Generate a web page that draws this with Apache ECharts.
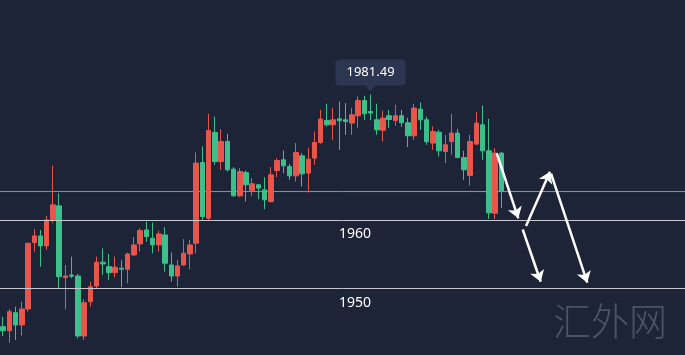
<!DOCTYPE html>
<html>
<head>
<meta charset="utf-8">
<script src="https://cdn.jsdelivr.net/npm/echarts@6/dist/echarts.min.js"></script>
<style>
html,body{margin:0;padding:0;background:#1d2438;}
#chart{width:685px;height:355px;}
</style>
</head>
<body>
<div id="chart"></div>
<script>
// ---- data ----
const opens = [1944.43,1943.84,1946.47,1944.68,1947.01,1956.70,1957.68,1956.22,1960.01,1962.06,
1951.59,1951.98,1951.83,1943.07,1948.08,1950.37,1953.84,1953.19,1952.32,1952.96,
1952.81,1954.90,1956.51,1958.55,1957.34,1956.36,1957.82,1953.44,1951.83,1953.44,
1955.05,1956.61,1968.38,1960.26,1972.77,1968.53,1971.45,1967.42,1963.52,1966.92,
1964.29,1965.13,1964.40,1962.69,1967.22,1968.78,1967.80,1966.44,1969.36,1966.84,
1969.03,1971.31,1974.52,1973.89,1974.77,1974.62,1974.14,1975.21,1977.44,1975.83,
1974.62,1973.09,1975.21,1974.52,1975.21,1974.18,1972.28,1976.18,1974.62,1971.22,
1972.80,1969.99,1971.45,1972.68,1969.11,1966.49,1971.07,1973.89,1970.09,1960.99,
1969.76];
const closes = [1943.84,1946.62,1944.68,1947.01,1956.61,1957.68,1956.22,1960.01,1962.21,1951.73,
1951.83,1951.80,1943.07,1947.93,1950.27,1953.84,1953.59,1952.32,1953.11,1952.81,
1955.05,1956.36,1958.45,1957.58,1956.36,1957.97,1953.69,1951.83,1953.30,1955.15,
1956.36,1968.30,1960.50,1973.06,1968.53,1971.45,1967.32,1963.52,1967.07,1965.13,
1965.27,1964.65,1962.94,1966.59,1968.68,1967.90,1966.44,1969.85,1966.73,1968.88,
1971.31,1974.72,1973.89,1974.62,1974.48,1974.37,1975.35,1977.44,1975.50,1975.60,
1973.16,1974.87,1974.67,1975.21,1974.18,1972.28,1976.33,1974.62,1971.41,1972.91,
1970.09,1970.97,1972.68,1969.11,1967.32,1971.45,1974.14,1970.09,1961.04,1969.76,
1964.15];
const highs = [1945.89,1947.01,1947.35,1948.08,1956.65,1958.66,1958.55,1960.60,1967.90,1963.91,
1953.44,1954.65,1952.13,1948.43,1951.00,1954.65,1955.88,1955.05,1954.65,1954.17,
1955.24,1957.49,1958.80,1959.77,1959.62,1958.45,1958.95,1955.24,1954.17,1957.20,
1957.09,1969.85,1970.72,1975.50,1975.10,1973.26,1972.58,1967.71,1967.57,1967.22,
1966.11,1965.27,1966.25,1967.71,1969.03,1970.14,1968.19,1971.22,1969.76,1970.49,
1972.91,1976.08,1976.96,1976.33,1977.29,1977.06,1976.37,1978.02,1978.13,1978.30,
1976.96,1975.94,1976.08,1976.81,1976.08,1974.91,1976.96,1977.15,1975.06,1973.64,
1973.16,1972.43,1975.50,1973.31,1970.09,1972.43,1975.75,1976.71,1974.77,1970.49,
1969.90];
const lows = [1943.07,1942.09,1942.49,1943.11,1946.62,1955.38,1953.19,1955.63,1959.53,1950.04,
1946.97,1951.50,1942.73,1942.49,1947.35,1950.04,1951.98,1951.25,1951.64,1950.18,
1950.77,1954.76,1955.38,1956.84,1955.15,1955.38,1952.46,1951.00,1950.27,1953.30,
1952.81,1955.15,1960.01,1960.01,1968.05,1967.32,1967.07,1963.42,1963.33,1962.69,
1963.52,1963.04,1961.58,1962.54,1966.25,1966.84,1965.86,1965.61,1964.88,1964.00,
1968.05,1971.12,1973.64,1971.70,1970.24,1972.43,1972.43,1973.45,1974.62,1974.55,
1972.43,1971.45,1973.45,1973.75,1973.60,1970.63,1971.70,1973.16,1970.97,1970.24,
1969.26,1968.30,1969.51,1969.03,1965.86,1965.02,1970.97,1968.78,1960.16,1960.12,
1961.77];
const slotCount = 110; // category slots (chart leaves empty room on the right)
const categories = Array.from({length: slotCount}, (_, i) => String(i));
const levelLines = [1960, 1950];
const levelLabels = ['1960', '1950'];
const peakIndex = 59;
const peakLabel = '1981.49';
// arrows: [fromIndex, fromPrice, toIndex, toPrice]
const arrows = [
  [79.27, 1969.73, 82.73, 1960.25],
  [83.97, 1959.12, 87.82, 1967.05],
  [87.99, 1966.78, 93.81, 1950.85],
  [83.44, 1958.61, 86.33, 1950.99]
];
const watermark = '汇外网';

// ---- build ----
const candleData = opens.map((o, i) => [o, closes[i], lows[i], highs[i]]);
const lastClose = closes[closes.length - 1];
const UP = '#e8554b', DOWN = '#3cbf8b';

const chart = echarts.init(document.getElementById('chart'), null, {renderer: 'canvas'});
chart.setOption({
  animation: false,
  backgroundColor: '#1d2438',
  grid: {left: 0, right: 0, top: 0, bottom: 0},
  xAxis: [
    {type: 'category', data: categories, show: false, boundaryGap: true},
    {type: 'value', min: -0.5, max: slotCount - 0.5, show: false}
  ],
  yAxis: {type: 'value', min: 1940.3, max: 1992.1, show: false, scale: true},
  graphic: [{
    type: 'text', left: 553, top: 302, silent: true,
    style: {text: watermark, fill: '#4c5464', font: '300 38px "Noto Sans CJK SC", sans-serif'}
  }],
  series: [
    {
      // last-price line
      type: 'line', xAxisIndex: 1, silent: true, z: 1,
      data: [[-0.5, lastClose], [slotCount - 0.5, lastClose]],
      symbol: 'none',
      lineStyle: {color: '#3dbb9f', width: 1},
      itemStyle: {color: '#3dbb9f'}
    },
    {
      // level lines
      type: 'line', xAxisIndex: 1, data: [], silent: true, z: 1,
      markLine: {
        silent: true, symbol: ['none', 'none'],
        lineStyle: {color: '#c6c9d1', width: 1, type: 'solid'},
        label: {
          show: true, position: 'insideMiddleBottom',
          formatter: p => levelLabels[levelLines.indexOf(p.value)],
          color: '#ffffff', fontSize: 14, distance: 7,
          fontFamily: '"Noto Sans", sans-serif', padding: [0, 0, 0, 25]
        },
        data: levelLines.map(v => ({yAxis: v}))
      }
    },
    {
      type: 'candlestick',
      data: candleData,
      barWidth: 5, z: 3,
      itemStyle: {color: UP, color0: DOWN, borderColor: UP, borderColor0: DOWN, borderWidth: 1},
      markPoint: {
        silent: true,
        data: [{
          coord: [peakIndex, highs[peakIndex]],
          symbol: 'path://M4,0 H66 Q70,0 70,4 V22 Q70,26 66,26 H40 L35,32 L30,26 H4 Q0,26 0,22 V4 Q0,0 4,0 Z',
          symbolSize: [70, 32],
          symbolOffset: [0, -19],
          itemStyle: {color: '#2c3650'},
          label: {
            show: true, formatter: peakLabel, color: '#ffffff', fontSize: 13,
            fontFamily: '"Noto Sans", sans-serif', offset: [0, -3], position: 'inside'
          }
        }]
      }
    },
    {
      type: 'line',
      xAxisIndex: 1,
      data: [],
      silent: true, z: 4,
      markLine: {
        silent: true,
        symbol: ['none', 'arrow'],
        symbolSize: 11,
        lineStyle: {color: '#ffffff', width: 2.5, type: 'solid'},
        label: {show: false},
        data: arrows.map(a => [{coord: [a[0], a[1]]}, {coord: [a[2], a[3]]}])
      }
    }
  ]
});
</script>
</body>
</html>
